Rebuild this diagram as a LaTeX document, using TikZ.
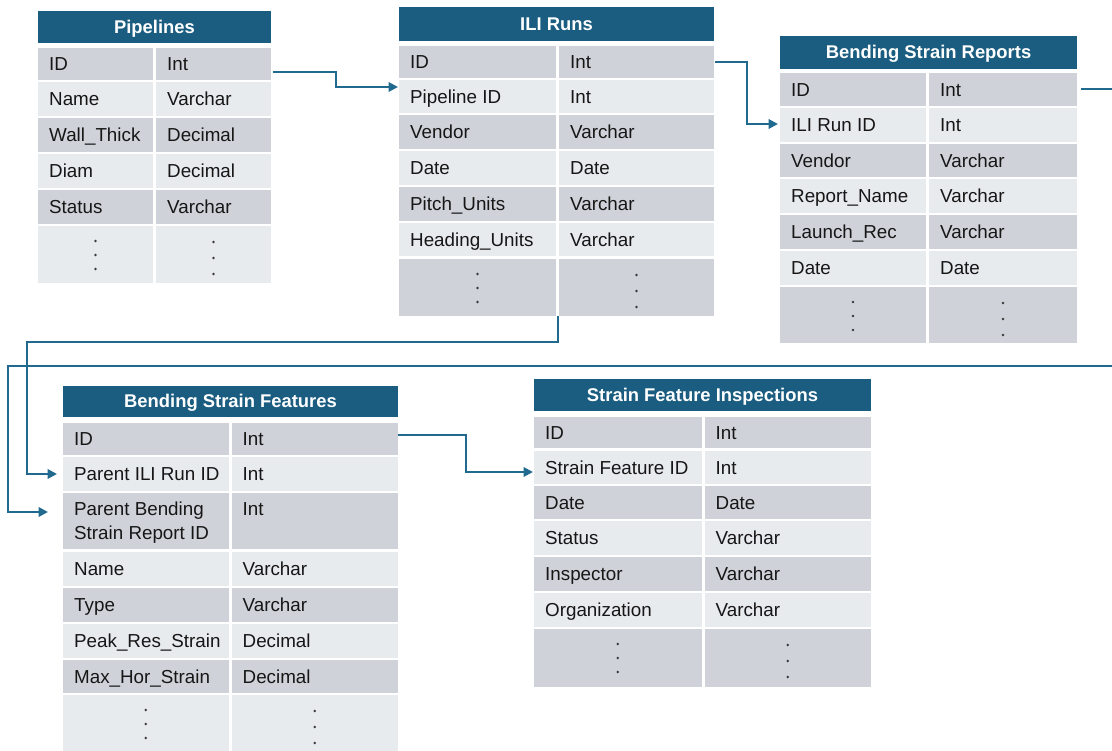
\documentclass[tikz,border=0pt]{standalone}
\usepackage{fontspec}
\setmainfont{Liberation Sans}
\usetikzlibrary{arrows.meta}
\definecolor{headblue}{HTML}{1A5D80}
\definecolor{linkblue}{HTML}{216A8F}
\definecolor{dk}{HTML}{CFD3D9}
\definecolor{lt}{HTML}{E8EBEE}
\definecolor{ink}{HTML}{161616}
\tikzset{
  headbox/.style={anchor=north west, fill=headblue, inner sep=0pt, outer sep=0pt},
  headtext/.style={anchor=base, text=white, font=\fontsize{18.4}{22}\selectfont\bfseries, inner sep=0pt},
  cellbox/.style={anchor=north west, inner sep=0pt, outer sep=0pt},
  celltext/.style={anchor=base west, text=ink, font=\fontsize{18.8}{24}\selectfont, inner sep=0pt},
  link/.style={draw=linkblue, line width=2pt, -{Triangle[length=9.5pt,width=9.5pt]}},
  dotmark/.style={fill=ink!85}
}
% #1 name, #2 x1, #3 column split, #4 x2, #5 head top, #6 head bottom, #7 title, #8 rows
\newcommand\erdtable[8]{%
  \pgfmathsetmacro\wL{#3-1.5-#2}%
  \pgfmathsetmacro\wR{#4-#3-1.5}%
  \pgfmathsetmacro\wH{#4-#2}%
  \pgfmathsetmacro\hH{#6-#5}%
  \node[headbox, minimum width=\wH pt, minimum height=\hH pt] (#1-head) at (#2,#5) {};
  \node[headtext] (#1-title) at ([yshift=-6.5pt]#1-head.center) {#7};
  \foreach \rT/\rB/\rF/\rL/\rR [count=\ri] in {#8} {
    \pgfmathsetmacro\hC{\rB-\rT}
    \pgfmathsetmacro\yB{(\rT+\rB)/2+6.6}
    \node[cellbox, fill=\rF, minimum width=\wL pt, minimum height=\hC pt] (#1-l\ri) at (#2,\rT) {};
    \node[celltext] (#1-lt\ri) at (#2+11,\yB) {\rL};
    \node[cellbox, fill=\rF, minimum width=\wR pt, minimum height=\hC pt] (#1-r\ri) at (#3+1.5,\rT) {};
    \node[celltext] (#1-rt\ri) at (#3+12.5,\yB) {\rR};
  }%
}
% #1 name, #2 x1, #3 split, #4 x2, #5 top, #6 bottom, #7 fill
\newcommand\dotrow[7]{%
  \pgfmathsetmacro\wL{#3-1.5-#2}%
  \pgfmathsetmacro\wR{#4-#3-1.5}%
  \pgfmathsetmacro\hC{#6-#5}%
  \node[cellbox, fill=#7, minimum width=\wL pt, minimum height=\hC pt] (#1-ld) at (#2,#5) {};
  \node[cellbox, fill=#7, minimum width=\wR pt, minimum height=\hC pt] (#1-rd) at (#3+1.5,#5) {};
  \foreach \dy in {15,29,43} \fill[dotmark] ([yshift=-\dy pt]#1-ld.north) circle (1.4pt);
  \foreach \dy in {16,32,48} \fill[dotmark] ([yshift=-\dy pt]#1-rd.north) circle (1.4pt);
}
\begin{document}
\begin{tikzpicture}[x=1pt,y=-1pt]
\useasboundingbox (0,0) rectangle (1112,751);
\fill[white] (0,0) rectangle (1112,751);
\clip (0,0) rectangle (1112,751);

% Pipelines
\erdtable{pipe}{38}{154.5}{271}{11}{43}{Pipelines}{%
  48/80/dk/ID/Int,
  82/116/lt/Name/Varchar,
  118/152/dk/Wall\_Thick/Decimal,
  154/188/lt/Diam/Decimal,
  190/224/dk/Status/Varchar}
\dotrow{pipe}{38}{154.5}{271}{226}{283}{lt}

% ILI Runs
\erdtable{ili}{399}{557.5}{714}{7}{41}{ILI Runs}{%
  46/78/dk/ID/Int,
  80/113/lt/Pipeline ID/Int,
  115/149/dk/Vendor/Varchar,
  151/185/lt/Date/Date,
  187/221/dk/Pitch\_Units/Varchar,
  223/256/lt/Heading\_Units/Varchar}
\dotrow{ili}{399}{557.5}{714}{259}{316}{dk}

% Bending Strain Reports
\erdtable{bsr}{780}{927.5}{1077}{36}{69}{Bending Strain Reports}{%
  73/106/dk/ID/Int,
  108/142/lt/ILI Run ID/Int,
  144/177/dk/Vendor/Varchar,
  179/213/lt/Report\_Name/Varchar,
  215/249/dk/Launch\_Rec/Varchar,
  251/285/lt/Date/Date}
\dotrow{bsr}{780}{927.5}{1077}{287}{343}{dk}

% Bending Strain Features
\erdtable{bsf}{63}{230}{398}{386}{417}{Bending Strain Features}{%
  423/455/dk/ID/Int,
  457/491/lt/Parent ILI Run ID/Int,
  493/549/dk/{\raisebox{12pt}{\parbox[t]{160pt}{Parent Bending\\Strain Report ID}}}/{\raisebox{12pt}{Int}},
  552/586/lt/Name/Varchar,
  588/622/dk/Type/Varchar,
  624/658/lt/Peak\_Res\_Strain/Decimal,
  660/693/dk/Max\_Hor\_Strain/Decimal}
\dotrow{bsf}{63}{230}{398}{695}{770}{lt}

% Strain Feature Inspections
\erdtable{sfi}{534}{703}{871}{379}{411}{Strain Feature Inspections}{%
  417/448/dk/ID/Int,
  451/484/lt/Strain Feature ID/Int,
  486/519/dk/Date/Date,
  521/555/lt/Status/Varchar,
  557/591/dk/Inspector/Varchar,
  593/627/lt/Organization/Varchar}
\dotrow{sfi}{534}{703}{871}{629}{687}{dk}

% routing points
\coordinate (routeR) at (1145,366);
\coordinate (routeL) at (8,366);
\coordinate (routeA) at (27,342);

% connectors
\draw[link] ([xshift=2pt,yshift=-8pt]pipe-r1.east) -- ++(63,0) |- ([xshift=-1pt,yshift=9.5pt]ili-l2.west);
\draw[link] ([xshift=1pt]ili-r1.east) -- ++(32,0) |- ([xshift=-2pt,yshift=1pt]bsr-l2.west);
\draw[link] ([xshift=4pt]bsr-r1.east) -| (routeR) -- (routeL) |- ([xshift=-15pt,yshift=9pt]bsf-l3.west);
\draw[link] ([xshift=1.5pt]ili-ld.south east) |- (routeA) |- ([xshift=-6pt]bsf-l2.west);
\draw[link] ([yshift=4pt]bsf-r1.east) -- ++(68,0) |- ([xshift=-1pt,yshift=-4.5pt]sfi-l2.west);
\end{tikzpicture}
\end{document}
